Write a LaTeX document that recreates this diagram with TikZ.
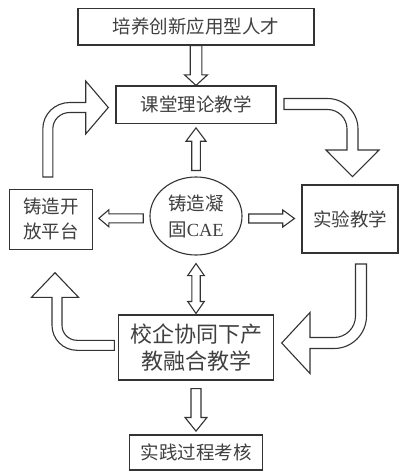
\documentclass[tikz,border=0pt]{standalone}
\usepackage{fontspec}
\setmainfont{Liberation Serif}
\newfontfamily\cjk{Noto Sans CJK SC}
\usetikzlibrary{calc,shapes.geometric}

\tikzset{
  blk/.style={draw=black!80, line width=1.1pt, fill=white, line join=miter},
  box/.style={draw=black!80, line width=1.1pt, inner sep=0pt, text=black!75, align=center,
    font=\cjk\fontsize{18.5}{25}\selectfont},
}

% straight block arrow: from, to, shaft half width, head half width, head length
\newcommand{\barrow}[5]{%
  \coordinate (bA) at (#1); \coordinate (bB) at (#2);
  \coordinate (bH) at ($(bB)!#5!(bA)$);
  \draw[blk] ($(bA)!#3!90:(bB)$) -- ($(bH)!#3!90:(bB)$) -- ($(bH)!#4!90:(bB)$) -- (bB)
    -- ($(bH)!#4!-90:(bB)$) -- ($(bH)!#3!-90:(bB)$) -- ($(bA)!#3!-90:(bB)$) -- cycle;}
% double headed block arrow
\newcommand{\dbarrow}[5]{%
  \coordinate (bA) at (#1); \coordinate (bB) at (#2);
  \coordinate (bH) at ($(bA)!#5!(bB)$); \coordinate (bK) at ($(bB)!#5!(bA)$);
  \draw[blk] (bA) -- ($(bH)!#4!90:(bB)$) -- ($(bH)!#3!90:(bB)$) -- ($(bK)!#3!90:(bB)$)
    -- ($(bK)!#4!90:(bB)$) -- (bB) -- ($(bK)!#4!-90:(bB)$) -- ($(bK)!#3!-90:(bB)$)
    -- ($(bH)!#3!-90:(bB)$) -- ($(bH)!#4!-90:(bB)$) -- cycle;}

\begin{document}
\begin{tikzpicture}[x=1pt,y=-1pt]
    \useasboundingbox[fill=white] (0,0) rectangle (399,471);

    % boxes
    \node[box, minimum width=236pt, minimum height=36.7pt] (goal) at (196,26.65) {培养创新应用型人才};
    \node[box, minimum width=160pt, minimum height=37.3pt] (theory) at (196,104.65) {课堂理论教学};
    \node[box, minimum width=83.4pt, minimum height=60pt] (open) at (51,219.3) {铸造开\\放平台};
    \node[box, ellipse, minimum width=92pt, minimum height=78pt, font=\cjk\fontsize{18.5}{26}\selectfont] (cae) at (196,216) {铸造凝\\固{\rmfamily CAE}};
    \node[box, minimum width=96pt, minimum height=68pt] (lab) at (350,219) {实验教学};
    \node[box, minimum width=155pt, minimum height=65pt, font=\cjk\fontsize{22}{27}\selectfont] (coop) at (196,347.5) {校企协同下产\\教融合教学};
    \node[box, minimum width=133.3pt, minimum height=35pt] (exam) at (196,452.5) {实践过程考核};

    % straight arrows
    \barrow{goal.south}{theory.north}{5.8pt}{11.5pt}{10.6pt}
    \barrow{$(cae.north)+(0,-6)$}{$(theory.south)+(0,4)$}{4.3pt}{10pt}{13.4pt}
    \barrow{$(open.east)+(50,-1)$}{$(open.east)+(5.6,-1)$}{4.5pt}{8.5pt}{10pt}
    \barrow{$(lab.west)+(-52.7,-0.5)$}{$(lab.west)+(-7,-0.5)$}{4.5pt}{8.5pt}{11.7pt}
    \dbarrow{$(cae.south)+(0,8)$}{$(coop.north)+(0,-1)$}{4.2pt}{8.3pt}{12pt}
    \barrow{$(coop.south)+(0,8)$}{$(exam.north)+(0,-3.3)$}{5pt}{11pt}{13.7pt}

    % curved arrows
    \draw[blk] (42.8,177) -- (42.8,129) .. controls (42.8,114.1) and (54.9,102.5) .. (69.8,102.5)
        -- (85.7,102.5) -- (85.7,81) -- (108.3,107.5) -- (85.7,134) -- (85.7,112.5) -- (69.8,112.5)
        .. controls (60.4,112.5) and (52.8,119.6) .. (52.8,129) -- (52.8,177) -- cycle; % open -> theory
    \draw[blk] (284,98.5) -- (327.5,98.5) .. controls (344.3,98.5) and (358,112.2) .. (358,129)
        -- (358,150) -- (379,150) -- (352.5,176.7) -- (326,150) -- (347,150) -- (347,129)
        .. controls (347,118.2) and (338.3,109.5) .. (327.5,109.5) -- (284,109.5) -- cycle; % theory -> lab
    \draw[blk] (355.5,264) -- (366.5,264) -- (366.5,316) .. controls (366.5,334) and (352,348.5) .. (334,348.5)
        -- (310,348.5) -- (310,373.5) -- (281.7,343) -- (310,312.5) -- (310,337.5) -- (334,337.5)
        .. controls (345.9,337.5) and (355.5,327.9) .. (355.5,316) -- cycle; % lab -> coop
    \draw[blk] (114.3,350.3) -- (77,350.3) .. controls (63.2,350.3) and (52,339.1) .. (52,325.3)
        -- (52,297.3) -- (31.5,297.3) -- (55,272.7) -- (78.5,297.3) -- (62,297.3) -- (62,325.3)
        .. controls (62,333.6) and (68.7,340.3) .. (77,340.3) -- (114.3,340.3) -- cycle; % coop -> open
\end{tikzpicture}
\end{document}
